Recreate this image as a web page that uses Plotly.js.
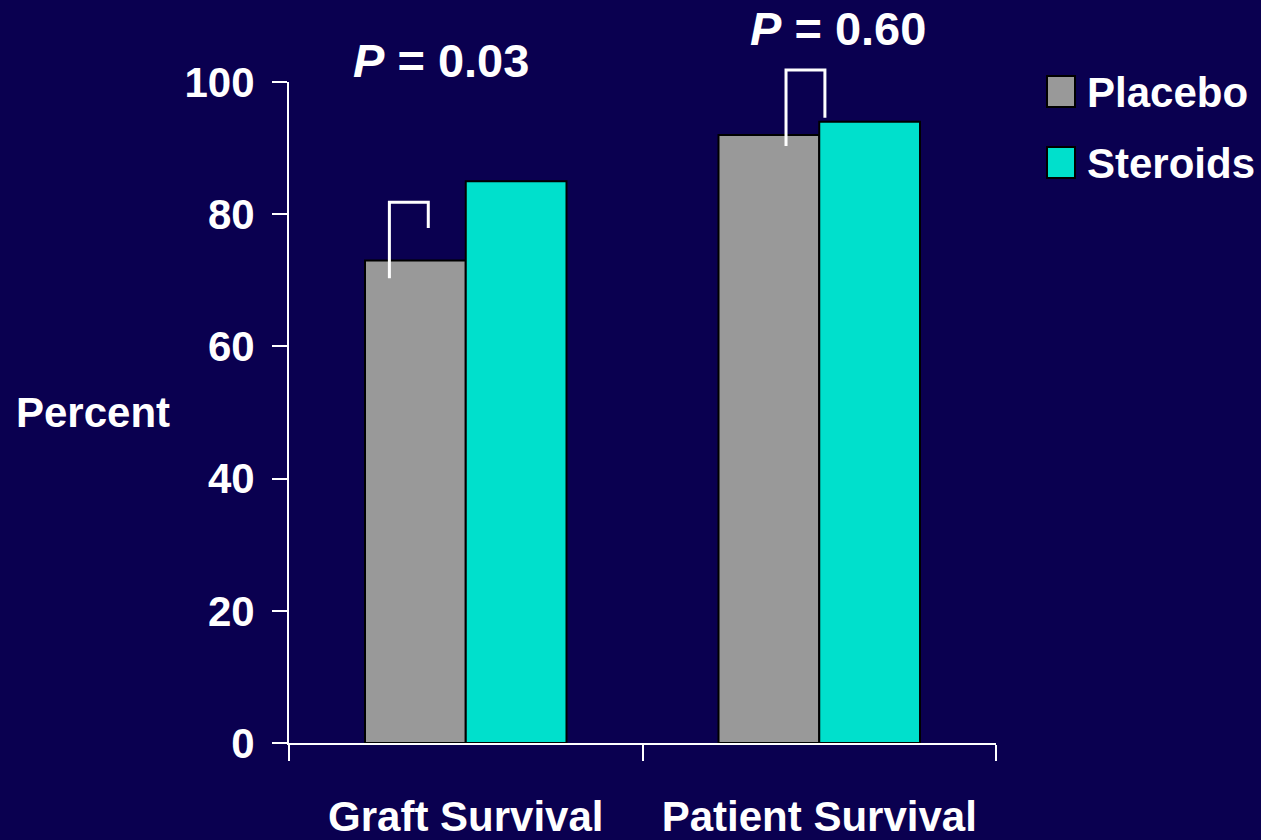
<!DOCTYPE html>
<html>
<head>
<meta charset="utf-8">
<script src="https://cdn.plot.ly/plotly-3.0.1.min.js"></script>
<style>
  html, body { margin: 0; padding: 0; background: #0A0050; }
  #chart { width: 1261px; height: 840px; }
</style>
</head>
<body>
<div id="chart"></div>
<script>
// Outcome categories and survival percentages per arm
const categories = ['Graft Survival', 'Patient Survival'];
const seriesNames = ['Placebo', 'Steroids'];
const placebo = [73, 92];
const steroids = [85, 94];
const pValues = ['0.03', '0.60'];
const yTicks = [0, 20, 40, 60, 80, 100];

const FONT = '"Liberation Sans", Arial, sans-serif';
const FS = 42;
const colors = ['#999999', '#00E0CC'];

const traces = [placebo, steroids].map((vals, i) => ({
  type: 'bar',
  name: seriesNames[i],
  x: categories,
  y: vals,
  marker: { color: colors[i], line: { color: '#000000', width: 2 } },
  showlegend: false,
  hoverinfo: 'skip'
}));

// Significance brackets: [category index, left x offset, right x offset, left foot, top, right foot]
// y values are in percent; the y axis spans 0-100 so paper y = percent / 100
const brackets = [
  [0, -0.216, -0.106, 70.3, 81.8, 77.9],
  [1, -0.094, 0.016, 90.3, 101.8, 94.6]
];

const shapes = [];
brackets.forEach(([c, xl, xr, yl, yt, yr]) => {
  shapes.push({
    type: 'path', xref: 'x', yref: 'paper',
    path: `M${c + xl},${yl / 100} L${c + xl},${yt / 100} L${c + xr},${yt / 100} L${c + xr},${yr / 100}`,
    line: { color: '#FFFFFF', width: 3 }
  });
});

// Legend swatches
seriesNames.forEach((n, i) => {
  shapes.push({
    type: 'rect', xref: 'paper', yref: 'paper',
    x0: (1047 - 289) / 707, x1: (1075 - 289) / 707,
    y0: (743 - (107 + i * 71)) / 661, y1: (743 - (76 + i * 71)) / 661,
    fillcolor: colors[i], line: { color: '#000000', width: 2 }
  });
});

const annotations = [];
seriesNames.forEach((n, i) => {
  annotations.push({
    xref: 'paper', yref: 'paper',
    x: (1085 - 289) / 707, y: (743 - (92 + i * 71)) / 661,
    xanchor: 'left', yanchor: 'middle',
    text: '<b>' + n + '</b>', showarrow: false,
    font: { family: FONT, size: FS, color: '#FFFFFF' }
  });
});

// P-value labels above each pair
const pPos = [[0, -0.069, 103.2], [1, 0.053, 108.1]];
pValues.forEach((p, i) => {
  annotations.push({
    xref: 'x', yref: 'paper',
    x: pPos[i][0] + pPos[i][1], y: pPos[i][2] / 100,
    xanchor: 'center', yanchor: 'middle',
    text: '<b><i>P</i> = ' + p + '</b>', showarrow: false,
    font: { family: FONT, size: 47, color: '#FFFFFF' }
  });
});

annotations.push({
  xref: 'paper', yref: 'paper',
  x: (93 - 289) / 707, y: (743 - 412) / 661,
  xanchor: 'center', yanchor: 'middle',
  text: '<b>Percent</b>', showarrow: false,
  font: { family: FONT, size: FS, color: '#FFFFFF' }
});

const layout = {
  width: 1261, height: 840,
  paper_bgcolor: '#0A0050', plot_bgcolor: '#0A0050',
  margin: { l: 289, r: 265, t: 82, b: 97 },
  barmode: 'group',
  bargap: 0.43,
  bargroupgap: 0,
  font: { family: FONT, color: '#FFFFFF' },
  xaxis: {
    type: 'category',
    tickson: 'boundaries',
    ticks: 'outside', ticklen: 16, tickwidth: 2, tickcolor: '#FFFFFF',
    showline: true, linecolor: '#FFFFFF', linewidth: 2,
    showgrid: false, zeroline: false,
    tickangle: 0,
    tickfont: { family: FONT, size: FS, color: '#FFFFFF', weight: 'bold' },
    ticklabelstandoff: 36,
    fixedrange: true
  },
  yaxis: {
    range: [0, 100],
    tickvals: yTicks,
    ticktext: yTicks.map(String),
    ticks: 'outside', ticklen: 15, tickwidth: 2, tickcolor: '#FFFFFF',
    showline: true, linecolor: '#FFFFFF', linewidth: 2,
    showgrid: false, zeroline: false,
    tickfont: { family: FONT, size: FS, color: '#FFFFFF', weight: 'bold' },
    ticklabelstandoff: 9,
    fixedrange: true
  },
  shapes: shapes,
  annotations: annotations,
  showlegend: false
};

Plotly.newPlot('chart', traces, layout, { staticPlot: true, displayModeBar: false });
</script>
</body>
</html>
